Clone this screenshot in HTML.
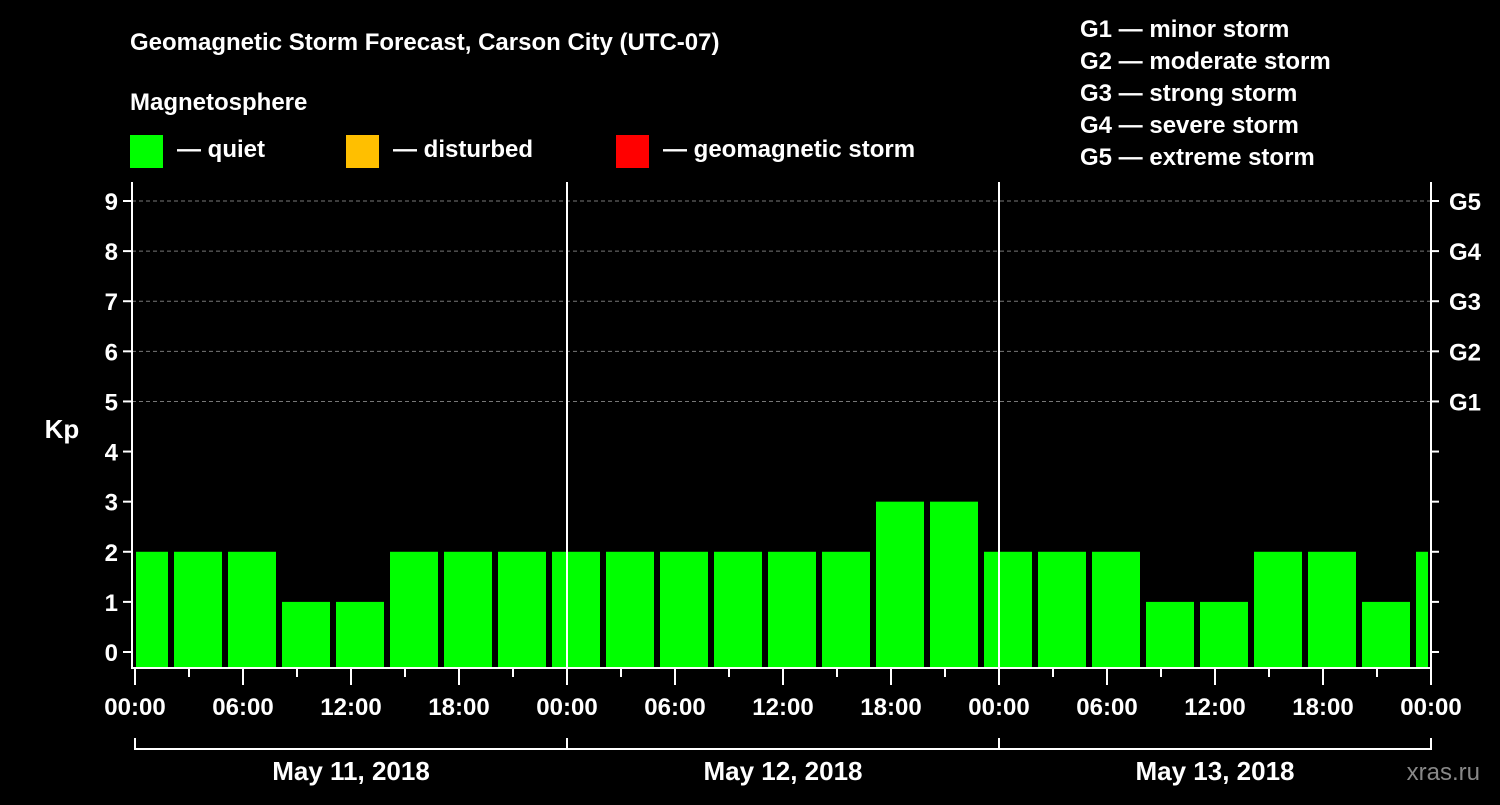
<!DOCTYPE html>
<html><head><meta charset="utf-8"><style>
body{margin:0;background:#000;width:1500px;height:800px;overflow:hidden}
svg text{font-family:"Liberation Sans",sans-serif;font-weight:bold;fill:#fff}
</style></head><body>
<svg id="chart" width="1500" height="800" xmlns="http://www.w3.org/2000/svg">
<text x="130" y="50" font-size="24">Geomagnetic Storm Forecast, Carson City (UTC-07)</text>
<text x="130" y="110" font-size="24">Magnetosphere</text>
<g>
<rect x="130" y="135" width="33" height="33" fill="#00ff00"/>
<text x="177" y="157" font-size="24">— quiet</text>
<rect x="346" y="135" width="33" height="33" fill="#ffbf00"/>
<text x="393" y="157" font-size="24">— disturbed</text>
<rect x="616" y="135" width="33" height="33" fill="#ff0000"/>
<text x="663" y="157" font-size="24">— geomagnetic storm</text>
</g>
<g font-size="24">
<text x="1080" y="37">G1 — minor storm</text>
<text x="1080" y="69">G2 — moderate storm</text>
<text x="1080" y="101">G3 — strong storm</text>
<text x="1080" y="133">G4 — severe storm</text>
<text x="1080" y="165">G5 — extreme storm</text>
</g>
<text x="62" y="438" font-size="26" text-anchor="middle">Kp</text>
<text x="1480" y="780" font-size="24" text-anchor="end" fill="#888" style="fill:#888;font-weight:normal">xras.ru</text>
<g id="plot"></g>
</svg>
<script>
const kpValues=[2,2,2,1,1,2,2,2,2,2,2,2,2,2,3,3,2,2,2,1,1,2,2,1,2];
const barHours=[0.5,3.5,6.5,9.5,12.5,15.5,18.5,21.5,24.5,27.5,30.5,33.5,36.5,39.5,42.5,45.5,48.5,51.5,54.5,57.5,60.5,63.5,66.5,69.5,72.5];
const yTicks=[0,1,2,3,4,5,6,7,8,9];
const gLabels=["G1","G2","G3","G4","G5"];
const timeLabels=["00:00","06:00","12:00","18:00","00:00","06:00","12:00","18:00","00:00","06:00","12:00","18:00","00:00"];
const dayLabels=["May 11, 2018","May 12, 2018","May 13, 2018"];
const NS="http://www.w3.org/2000/svg";
const L=132,R=1431,T=182,B=668;
const x=h=>135+h*(1296/72);
const y=v=>652-v*(451/9);
const g=document.getElementById('plot');
function mk(t,a,p){const e=document.createElementNS(NS,t);for(const k in a)e.setAttribute(k,a[k]);(p||g).appendChild(e);return e;}
// grid
yTicks.forEach(v=>{if(v>=5){const l=mk('line',{x1:L,x2:R,y1:y(v),y2:y(v),stroke:'#777','stroke-dasharray':'4,3'});

}});
// bars
kpValues.forEach((v,i)=>{let x0=x(barHours[i])-24,x1=x0+48;x0=Math.max(x0,136);x1=Math.min(x1,1428);
const c=v>=5?'#ff0000':(v>=4?'#ffbf00':'#00ff00');
const r=mk('rect',{x:x0,y:y(v),width:x1-x0,height:B-y(v),fill:c});

});
// axes
const ax=mk('path',{d:`M${L},${T}V${B}H${R}V${T}`,stroke:'#fff','stroke-width':2,fill:'none'});


[24,48].forEach(h=>{const l=mk('line',{x1:x(h),x2:x(h),y1:T,y2:B,stroke:'#fff','stroke-width':2});

});
yTicks.forEach(v=>{
mk('line',{x1:L-9,x2:L,y1:y(v),y2:y(v),stroke:'#fff','stroke-width':2});
mk('line',{x1:R,x2:R+8,y1:y(v),y2:y(v),stroke:'#fff','stroke-width':2});
const t=mk('text',{x:L-14,y:y(v)+9,'font-size':24,'text-anchor':'end'});t.textContent=v;


if(v>=5){const gt=mk('text',{x:R+18,y:y(v)+9,'font-size':24});gt.textContent=gLabels[v-5];

}
});
for(let h=0;h<=72;h+=3){const major=h%6==0;mk('line',{x1:x(h),x2:x(h),y1:B,y2:B+(major?17:9),stroke:'#fff','stroke-width':2});}
timeLabels.forEach((s,i)=>{const t=mk('text',{x:x(i*6),y:715,'font-size':24,'text-anchor':'middle'});t.textContent=s;

});
mk('path',{d:`M${x(0)},738V749H${x(72)}V738`,stroke:'#fff','stroke-width':2,fill:'none'});
[24,48].forEach(h=>mk('line',{x1:x(h),x2:x(h),y1:738,y2:749,stroke:'#fff','stroke-width':2}));
dayLabels.forEach((s,i)=>{const t=mk('text',{x:x(i*24+12),y:780,'font-size':26,'text-anchor':'middle'});t.textContent=s;

});
</script>
</body></html>
